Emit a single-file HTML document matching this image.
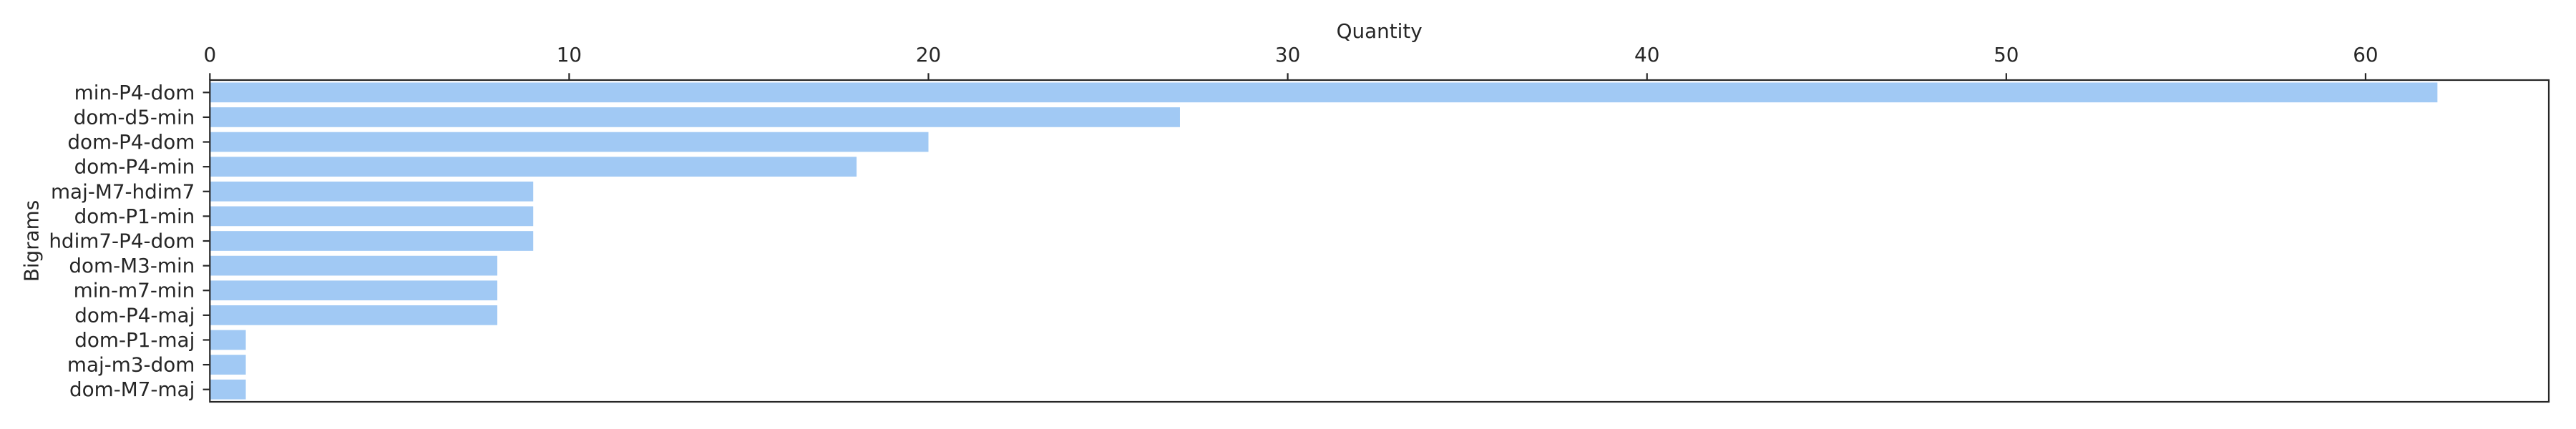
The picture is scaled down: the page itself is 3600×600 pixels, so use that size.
<!DOCTYPE html>
<html><head><meta charset="utf-8">
<style>
html,body{margin:0;padding:0;background:#fff;}
svg{display:block;font-family:"DejaVu Sans","Liberation Sans",sans-serif;}
</style></head>
<body>
<svg id="chart" width="3600" height="600" viewBox="0 0 3600 600" xmlns="http://www.w3.org/2000/svg">
<rect x="0" y="0" width="3600" height="600" fill="#fff"/>
<g id="bars"></g>
<g id="axes"></g>
</svg>
<script>
const categories = ["min-P4-dom","dom-d5-min","dom-P4-dom","dom-P4-min","maj-M7-hdim7","dom-P1-min","hdim7-P4-dom","dom-M3-min","min-m7-min","dom-P4-maj","dom-P1-maj","maj-m3-dom","dom-M7-maj"];
const values = [62,27,20,18,9,9,9,8,8,8,1,1,1];
const xTicks = [0,10,20,30,40,50,60];

const NS = "http://www.w3.org/2000/svg";
const L = 293.3, R = 3562, T = 112, B = 562;
const xMax = Math.max(...values) * 1.05;
const x = v => L + v / xMax * (R - L);
const band = (B - T) / categories.length;
const yc = i => T + band * (i + 0.5);
const ink = "#262626";
const FS = 27.8;

function mk(tag, attrs, parent) {
  const e = document.createElementNS(NS, tag);
  for (const k in attrs) e.setAttribute(k, attrs[k]);
  parent.appendChild(e);
  return e;
}
const gb = document.getElementById("bars");
const ga = document.getElementById("axes");

values.forEach((v, i) => {
  const h = band * 0.8;
  const r = mk("rect", {x: x(0), y: yc(i) - h / 2, width: x(v) - x(0), height: h, fill: "#a1c9f4"}, gb);
  
  
});

// frame
const fr = mk("rect", {x: L, y: T, width: R - L, height: B - T, fill: "none", stroke: ink, "stroke-width": 2.2}, ga);



xTicks.forEach(t => {
  const tk = mk("line", {x1: x(t), x2: x(t), y1: T, y2: T - 9.7, stroke: ink, "stroke-width": 2.2}, ga);
  
  
  const tx = mk("text", {x: x(t), y: 86, "text-anchor": "middle", "font-size": FS, fill: ink}, ga);
  tx.textContent = t;
  
  
});

categories.forEach((c, i) => {
  const tk = mk("line", {x1: L, x2: L - 9.7, y1: yc(i), y2: yc(i), stroke: ink, "stroke-width": 2.2}, ga);
  
  
  const tx = mk("text", {x: L - 21, y: yc(i), "text-anchor": "end", "dominant-baseline": "central", "font-size": FS, fill: ink}, ga);
  tx.textContent = c;
  
  
});

const xt = mk("text", {x: (L + R) / 2, y: 53, "text-anchor": "middle", "font-size": FS, fill: ink}, ga);
xt.textContent = "Quantity";



const yt = mk("text", {x: 0, y: 0, "text-anchor": "middle", "dominant-baseline": "central", "font-size": FS, fill: ink, transform: "translate(44," + ((T + B) / 2) + ") rotate(-90)"}, ga);
yt.textContent = "Bigrams";


</script>
</body></html>
